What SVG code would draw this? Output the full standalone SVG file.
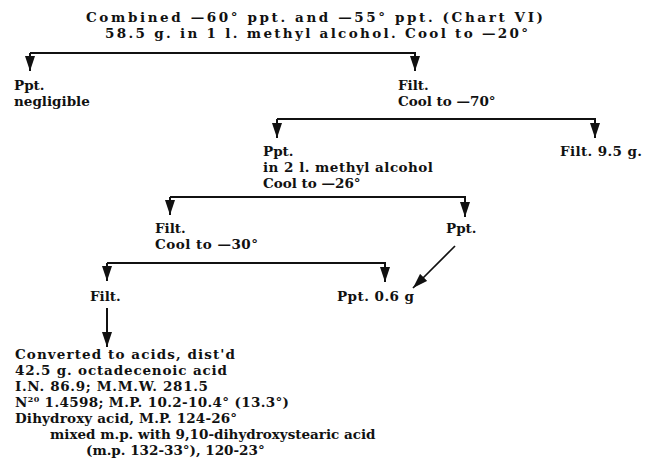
<svg xmlns="http://www.w3.org/2000/svg" width="648" height="459" viewBox="0 0 648 459">
<style>
text{font-family:"DejaVu Serif","Liberation Serif",serif;font-size:13.5px;font-weight:bold;fill:#111}
.c{fill:none;stroke:#111;stroke-width:2}
</style>
<defs>
<marker id="ahl" viewBox="0 0 15 10" refX="15" refY="5" markerWidth="15" markerHeight="10" markerUnits="userSpaceOnUse" orient="auto">
<path d="M0,0 L15,5 L0,10 Z" fill="#111"/>
</marker>
</defs>
<rect width="648" height="459" fill="#fff"/>
<g id="connectors">
<path class="c" d="M30,53 H415 V71" marker-end="url(#ahl)"/>
<path class="c" d="M30,53 V71" marker-end="url(#ahl)"/>
<path class="c" d="M277,119 H595 V138" marker-end="url(#ahl)"/>
<path class="c" d="M277,119 V138" marker-end="url(#ahl)"/>
<path class="c" d="M170,197 H465 V217" marker-end="url(#ahl)"/>
<path class="c" d="M170,197 V215" marker-end="url(#ahl)"/>
<path class="c" d="M107,263 H385 V282" marker-end="url(#ahl)"/>
<path class="c" d="M107,263 V281" marker-end="url(#ahl)"/>
<path class="c" d="M455,246 L413,288" marker-end="url(#ahl)" style="stroke-width:1.7"/>
<path class="c" d="M107,308 V347" marker-end="url(#ahl)"/>
</g>
<g id="n-start">
<text x="86" y="22" textLength="457">Combined —60° ppt. and —55° ppt. (Chart VI)</text>
<text x="105" y="38" textLength="423">58.5 g. in 1 l. methyl alcohol. Cool to —20°</text>
</g>
<g id="n-ppt1">
<text x="14" y="90">Ppt.</text>
<text x="14" y="106">negligible</text>
</g>
<g id="n-filt1">
<text x="398" y="90">Filt.</text>
<text x="398" y="106">Cool to —70°</text>
</g>
<g id="n-ppt2">
<text x="263" y="156">Ppt.</text>
<text x="263" y="172" textLength="170">in 2 l. methyl alcohol</text>
<text x="263" y="188">Cool to —26°</text>
</g>
<g id="n-filt2">
<text x="560" y="156" textLength="82">Filt. 9.5 g.</text>
</g>
<g id="n-filt3">
<text x="155" y="233">Filt.</text>
<text x="155" y="249" textLength="103">Cool to —30°</text>
</g>
<g id="n-ppt3">
<text x="446" y="233">Ppt.</text>
</g>
<g id="n-filt4">
<text x="90" y="301">Filt.</text>
</g>
<g id="n-ppt4">
<text x="337" y="301" textLength="77">Ppt. 0.6 g</text>
</g>
<g id="n-result">
<text x="15" y="359" textLength="220">Converted to acids, dist'd</text>
<text x="15" y="375" textLength="212">42.5 g. octadecenoic acid</text>
<text x="15" y="391" textLength="193">I.N. 86.9; M.M.W. 281.5</text>
<text x="15" y="407" textLength="274">N<tspan font-size="8" dy="-5">20</tspan><tspan dy="5"> 1.4598; M.P. 10.2-10.4° (13.3°)</tspan></text>
<text x="15" y="423" textLength="222">Dihydroxy acid, M.P. 124-26°</text>
<text x="50" y="439">mixed m.p. with 9,10-dihydroxystearic acid</text>
<text x="86" y="455">(m.p. 132-33°), 120-23°</text>
</g>
</svg>
